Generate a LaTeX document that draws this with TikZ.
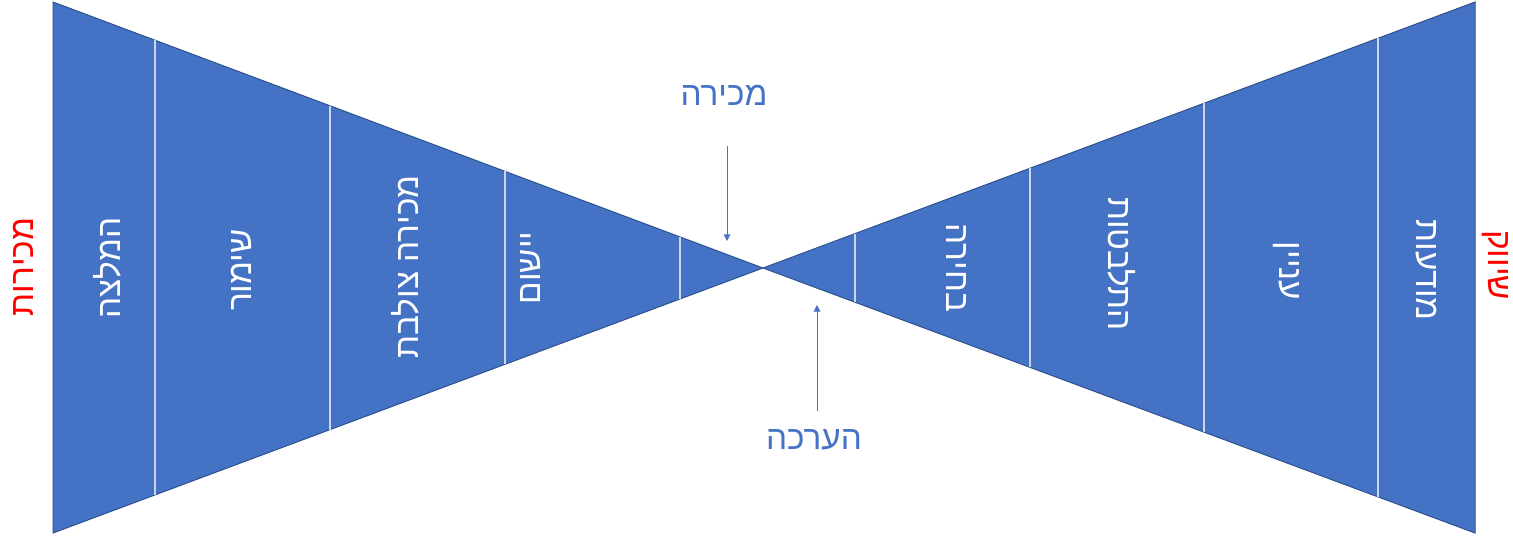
\documentclass[tikz,border=0pt]{standalone}
\usepackage{fontspec}
\usetikzlibrary{calc,arrows.meta}
\TeXXeTstate=1
\newfontfamily\heb[Script=Hebrew]{Liberation Sans}
\definecolor{fillblue}{HTML}{4472C4}
\definecolor{edgeblue}{HTML}{2F528F}
\definecolor{divline}{HTML}{C9D6EE}
\definecolor{redlbl}{HTML}{FF0000}
\begin{document}
\begin{tikzpicture}[x=0.75pt,y=-0.75pt,
  wing/.style={fill=fillblue,draw=edgeblue,line width=0.75pt,line join=miter},
  divider/.style={draw=divline,line width=1pt},
  seglbl/.style={text=white,font=\heb\fontsize{25}{30}\selectfont,inner sep=0pt},
  sidelbl/.style={text=redlbl,font=\heb\fontsize{25}{30}\selectfont,inner sep=0pt},
  midlbl/.style={text=fillblue,font=\heb\fontsize{25}{30}\selectfont,inner sep=0pt},
  pointer/.style={draw=fillblue,line width=0.75pt,-{Triangle[length=5pt,width=5pt]}}]
\useasboundingbox (0,0) rectangle (1513,540);
\coordinate (A) at (763,268);
\coordinate (LT) at (53,2);
\coordinate (LB) at (53,533);
\coordinate (RT) at (1475,2);
\coordinate (RB) at (1475,533);
\fill[white] (0,0) rectangle (1513,540);
\path[wing] (LT) -- (A) -- (LB) -- cycle;
\path[wing] (RT) -- (A) -- (RB) -- cycle;
\foreach \t in {0.1437,0.3901,0.6366,0.8831}
  \draw[divider] ($(LT)!\t!(A)$) -- ($(LB)!\t!(A)$);
\foreach \t in {0.1362,0.3806,0.6250,0.8708}
  \draw[divider] ($(RT)!\t!(A)$) -- ($(RB)!\t!(A)$);
% left segment labels
\node[seglbl,rotate=90] (l1) at (107,268) {\beginR המלצה\endR};
\node[seglbl,rotate=90] (l2) at (241,270) {\beginR שימור\endR};
\node[seglbl,rotate=90] (l3) at (405,267) {\beginR מכירה צולבת\endR};
\node[seglbl,rotate=90] (l4) at (531,268) {\beginR יישום\endR};
% right segment labels
\node[seglbl,rotate=-90] (r1) at (956,268) {\beginR בחירה\endR};
\node[seglbl,rotate=-90] (r2) at (1122,264) {\beginR התלבטות\endR};
\node[seglbl,rotate=-90] (r3) at (1286,271) {\beginR עניין\endR};
\node[seglbl,rotate=-90] (r4) at (1426,270) {\beginR מודעות\endR};
% side labels
\node[sidelbl,rotate=90] (sales) at (23,267) {\beginR מכירות\endR};
\node[sidelbl,rotate=-90] (mkt) at (1495,265) {\beginR שיווק\endR};
% middle labels and pointers
\node[midlbl] (sale) at (724,95) {\beginR מכירה\endR};
\node[midlbl] (eval) at (814,440) {\beginR הערכה\endR};
\coordinate (saleStart) at (727,146);
\coordinate (saleTip) at (727,241);
\coordinate (evalStart) at (817,411);
\coordinate (evalTip) at (817,305);
\draw[pointer] (saleStart) -- (saleTip);
\draw[pointer] (evalStart) -- (evalTip);
\end{tikzpicture}
\end{document}
